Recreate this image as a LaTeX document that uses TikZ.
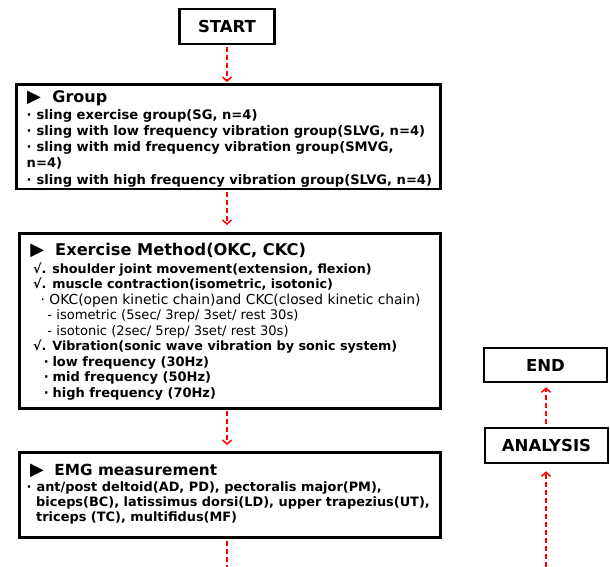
\documentclass[tikz,border=0pt]{standalone}
\usepackage{fontspec}
\setmainfont{DejaVu Sans}
\usetikzlibrary{arrows.meta}
\usetikzlibrary{positioning}

\tikzset{
  box/.style={draw=black,line width=2.6pt,fill=white,inner sep=0pt},
  boxhead/.style={font=\fontsize{16.5}{18}\selectfont\bfseries},
  boxtext/.style={anchor=north west,inner sep=0pt,align=left},
  flow/.style={red,line width=1.6pt,dash pattern=on 5pt off 3pt,-{Straight Barb[length=4pt,width=9pt,line width=1.5pt]}},
  flowend/.style={red,line width=1.6pt,dash pattern=on 5pt off 3pt}
}
% #1 title size, #2 space before the triangle, #3 space after it, #4 title
\newcommand{\boxtitle}[4]{\rule{0pt}{14pt}\hspace{#2pt}{\fontsize{18}{18}\selectfont ▶}\hspace{#3pt}{\fontsize{#1}{18}\selectfont #4}}

\begin{document}
\begin{tikzpicture}[x=1pt,y=1pt]
\useasboundingbox (0,0) rectangle (610,-567);

% left column
\node[box,boxhead,minimum width=95,minimum height=35] (start) at (227,-26.5) {START};

\node[box,minimum width=424,minimum height=104,anchor=north west] (group) at (15,-83.5) {};
\node[boxtext,font=\fontsize{13.1}{16.25}\selectfont\bfseries] (grouptxt) at (26.5,-88) {\boxtitle{16}{0.5}{11.4}{Group}\\[0.75pt]
·\hspace{5pt}sling exercise group(SG, n=4)\\
·\hspace{5pt}sling with low frequency vibration group(SLVG, n=4)\\
·\hspace{5pt}sling with mid frequency vibration group(SMVG,\\
n=4)\\
·\hspace{5pt}sling with high frequency vibration group(SLVG, n=4)};

\node[box,minimum width=421,minimum height=175,anchor=north west] (method) at (18,-232) {};
\node[boxtext,font=\fontsize{12.7}{15.5}\selectfont\bfseries] (methodtxt) at (22,-241) {\boxtitle{16.2}{8.2}{11}{Exercise Method(OKC, CKC)}\\[2.5pt]
\hspace{11pt}√. shoulder joint movement(extension, flexion)\\
\hspace{11pt}√. muscle contraction(isometric, isotonic)\\
{\mdseries\fontsize{13.8}{15.5}\selectfont\hspace{18.5pt}· OKC(open kinetic chain)and CKC(closed kinetic chain)}\\
{\mdseries\fontsize{13.1}{15.5}\selectfont\hspace{25.3pt}- isometric (5sec/ 3rep/ 3set/ rest 30s)}\\
{\mdseries\fontsize{13.1}{15.5}\selectfont\hspace{25.3pt}- isotonic (2sec/ 5rep/ 3set/ rest 30s)}\\
\hspace{11pt}√. Vibration(sonic wave vibration by sonic system)\\
{\fontsize{13}{15.5}\selectfont\hspace{21.6pt}·\hspace{3.8pt}low frequency (30Hz)}\\
{\fontsize{13}{15.5}\selectfont\hspace{21.6pt}·\hspace{3.8pt}mid frequency (50Hz)}\\
{\fontsize{13}{15.5}\selectfont\hspace{21.6pt}·\hspace{3.8pt}high frequency (70Hz)}};

\node[box,minimum width=421,minimum height=85,anchor=north west] (emg) at (18,-451) {};
\node[boxtext,font=\fontsize{12.9}{15}\selectfont\bfseries] (emgtxt) at (26.5,-461.5) {\boxtitle{15.3}{3.5}{10.4}{EMG measurement}\\[1.2pt]
·\hspace{5pt}ant/post deltoid(AD, PD), pectoralis major(PM),\\
\hspace{9.5pt}biceps(BC), latissimus dorsi(LD), upper trapezius(UT),\\
\hspace{9.5pt}triceps (TC), multifidus(MF)};

% right column
\node[box,boxhead,minimum width=123,minimum height=34] (end) at (545.5,-365) {END};
\node[box,boxhead,minimum width=123,minimum height=35] (analysis) at (546.5,-445.5) {ANALYSIS};

\coordinate (emgout) at (227,-567);
\coordinate (anain) at (546,-567);

% connectors
\draw[flow,shorten <=2pt,shorten >=1.5pt] (start.south) -- (group.north -| start.south);
\draw[flow,shorten <=2pt,shorten >=7pt] (group.south -| start.south) -- (method.north -| start.south);
\draw[flow,shorten <=1pt,shorten >=6pt] (method.south -| start.south) -- (emg.north -| start.south);
\draw[flowend,shorten <=2pt] (emg.south -| emgout) -- (emgout);
\draw[flow,shorten >=7pt] (anain) -- (analysis.south -| anain);
\draw[flow,shorten <=3pt,shorten >=4pt] (analysis.north -| anain) -- (end.south -| anain);

\end{tikzpicture}
\end{document}
